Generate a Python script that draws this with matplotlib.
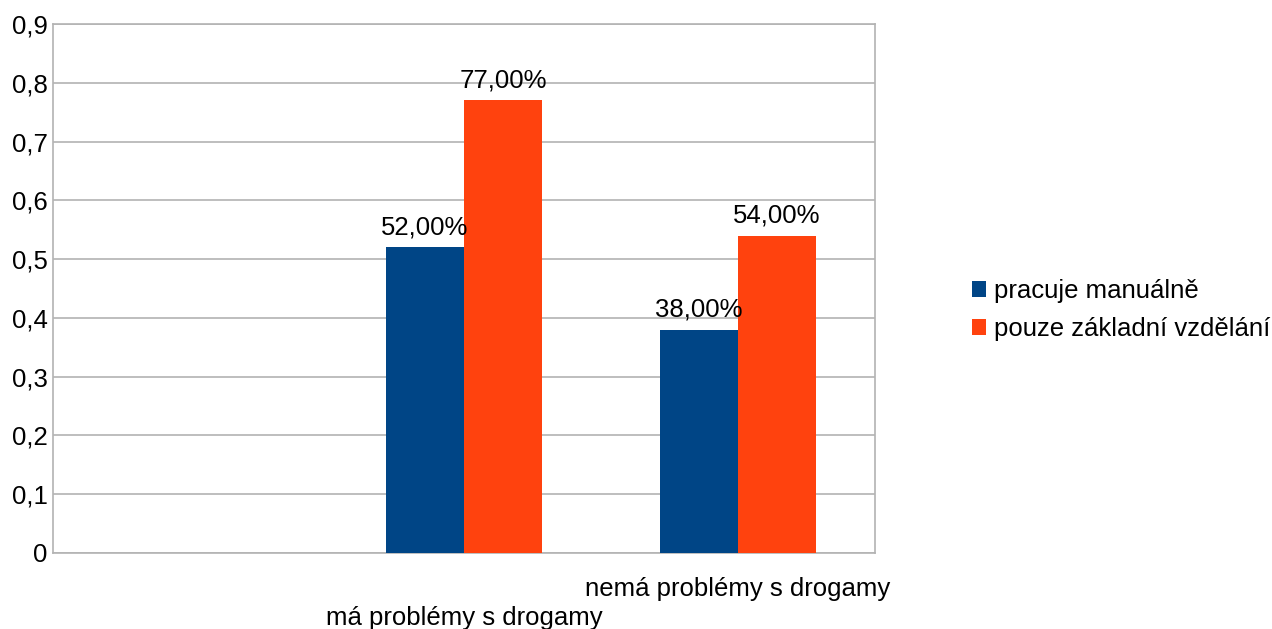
import numpy as np
import matplotlib.pyplot as plt

plt.rcParams['font.family'] = ['Liberation Sans', 'DejaVu Sans']

# data
categories = ["", "má problémy s drogamy", "nemá problémy s drogamy"]
manual = [np.nan, 0.52, 0.38]
basic_edu = [np.nan, 0.77, 0.54]
series_names = ["pracuje manuálně", "pouze základní vzdělání"]
colors = ["#004586", "#ff420e"]

FS = 18.5

fig = plt.figure(figsize=(12.72, 6.29), dpi=100)
ax = fig.add_axes([53 / 1272, 76 / 629, 822 / 1272, 529 / 629])

x = np.arange(len(categories))
w = 0.285
bars1 = ax.bar(x - w / 2, manual, w, color=colors[0], label=series_names[0], zorder=3)
bars2 = ax.bar(x + w / 2, basic_edu, w, color=colors[1], label=series_names[1], zorder=3)

# value labels
for bars, vals in [(bars1, manual), (bars2, basic_edu)]:
    for b, v in zip(bars, vals):
        if np.isnan(v):
            continue
        ax.annotate(f"{v * 100:.2f}%".replace(".", ","),
                    (b.get_x() + b.get_width() / 2, v),
                    xytext=(0, 6), textcoords="offset points",
                    ha="center", va="bottom", fontsize=FS, color="black", zorder=4)

ax.set_xlim(-0.5, len(categories) - 0.5)
ax.set_ylim(0, 0.9)
yt = np.arange(0, 0.91, 0.1)
ax.set_yticks(yt)
ax.set_yticklabels(["0" if t == 0 else f"{t:.1f}".replace(".", ",") for t in yt])
ax.set_xticks(x)
ax.set_xticklabels(categories)

ax.yaxis.grid(True, color="#b3b3b3", linewidth=1.2, zorder=0)
for s in ax.spines.values():
    s.set_color("#b3b3b3")
    s.set_linewidth(1.2)
ax.tick_params(axis="both", length=0, labelsize=FS, colors="black")
ax.tick_params(axis="y", pad=4)

# staggered category labels
for i, tick in enumerate(ax.xaxis.get_major_ticks()):
    tick.set_pad(17 if i % 2 == 0 else 38)

fig.legend(loc="center left", bbox_to_anchor=(962 / 1272, (629 - 310) / 629),
           frameon=False, fontsize=FS, handlelength=0.55, handleheight=0.55,
           handletextpad=0.3, labelspacing=0.55, borderaxespad=0)

plt.savefig("out.png", dpi=100)
plt.close()
